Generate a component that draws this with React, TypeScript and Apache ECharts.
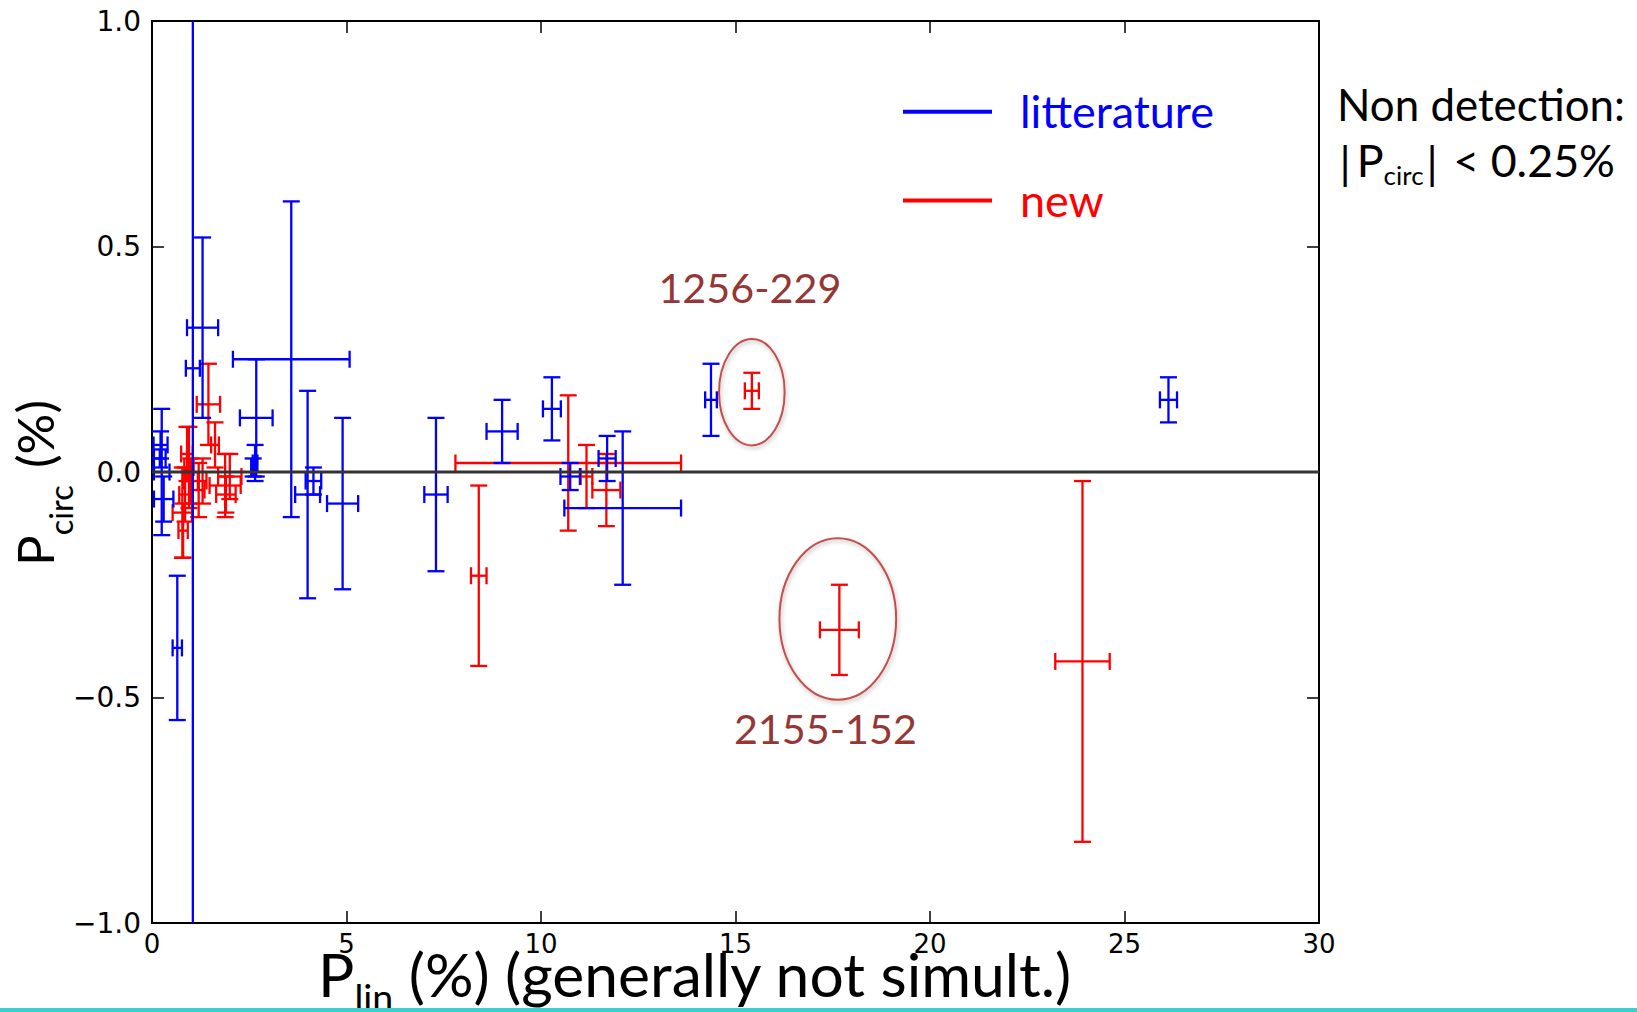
import React, { useEffect, useRef } from "react";
import * as echarts from "echarts";

// ---------- axes ----------
const X_MIN = 0;
const X_MAX = 30;
const X_STEP = 5;
const Y_MIN = -1;
const Y_MAX = 1;
const Y_STEP = 0.5;
const xTicks = [0, 5, 10, 15, 20, 25, 30];
const xTickLabels = ["0", "5", "10", "15", "20", "25", "30"];
const yTicks = [-1, -0.5, 0, 0.5, 1];
const yTickLabels = ["\u22121.0", "\u22120.5", "0.0", "0.5", "1.0"];

// ---------- "litterature" (blue) ----------
const litX = [1.05, 1.3, 0.25, 0.22, 0.2, 0.3, 0.65, 3.58, 2.68, 2.65, 2.6, 4.0, 4.15, 4.9, 7.3, 9.0, 10.28, 10.75, 11.7, 12.1, 14.37, 26.13];
const litY = [0.23, 0.32, 0.0, 0.06, 0.03, -0.06, -0.39, 0.25, 0.12, 0.02, 0.01, -0.05, -0.02, -0.07, -0.05, 0.09, 0.14, -0.01, 0.03, -0.08, 0.16, 0.16];
const litXErr = [0.18, 0.4, 0.2, 0.18, 0.15, 0.25, 0.12, 1.5, 0.42, 0.06, 0.05, 0.32, 0.2, 0.4, 0.3, 0.4, 0.23, 0.25, 0.22, 1.5, 0.15, 0.22];
const litYErr = [1.4, 0.2, 0.14, 0.03, 0.02, 0.05, 0.16, 0.35, 0.13, 0.04, 0.02, 0.23, 0.03, 0.19, 0.17, 0.07, 0.07, 0.03, 0.05, 0.17, 0.08, 0.05];

// ---------- "new" (red) ----------
const newX = [10.7, 8.4, 11.17, 11.68, 15.42, 17.67, 23.92, 1.45, 1.62, 0.78, 0.8, 0.85, 0.95, 1.0, 0.9, 1.2, 1.88, 2.0, 1.9, 1.3];
const newY = [0.02, -0.23, -0.01, -0.04, 0.18, -0.35, -0.42, 0.15, 0.06, -0.09, -0.13, -0.05, 0.01, -0.02, 0.04, -0.04, -0.03, -0.01, -0.05, -0.02];
const newXErr = [2.9, 0.2, 0.15, 0.36, 0.18, 0.5, 0.7, 0.3, 0.1, 0.25, 0.12, 0.15, 0.12, 0.18, 0.15, 0.15, 0.4, 0.3, 0.25, 0.1];
const newYErr = [0.15, 0.2, 0.07, 0.08, 0.04, 0.1, 0.4, 0.09, 0.05, 0.1, 0.06, 0.06, 0.09, 0.05, 0.06, 0.06, 0.07, 0.05, 0.04, 0.05];

// ---------- zero line ----------
const zeroLineX = [0, 30];
const zeroLineY = [0, 0];

// ---------- annotations (data coordinates) ----------
const annotNames = ["1256-229", "2155-152"];
const annotLabelX = [15.37, 17.31];
const annotLabelY = [0.411, -0.568];
const ellipseCX = [15.42, 17.63];
const ellipseCY = [0.177, -0.326];
const ellipseRX = [0.843, 1.5];
const ellipseRY = [0.118, 0.179];

const SANS = "Lato";
const TICK_FONT = "DejaVu Sans";
const BLUE = "#0000FF";
const RED = "#FF0000";
const ANNOT_COLOR = "#953735";
const ELLIPSE_COLOR = "#C0504D";
const CENTRAL = 0.387; // central baseline offset (fraction of font size) above alphabetic baseline

let measureCtx: CanvasRenderingContext2D | null = null;
function measure(text: string, size: number, family: string): number {
  if (!measureCtx) measureCtx = document.createElement("canvas").getContext("2d");
  measureCtx!.font = `${size}px ${family}`;
  return measureCtx!.measureText(text).width;
}

type Piece = { text: string; rel: number; dy: number; gap?: number };
function layoutRunF(pieces: Piece[], family: string, F: number) {
  let x = 0;
  const items = pieces.map((p) => {
    const size = F * p.rel;
    x += p.gap || 0;
    const lead = p.text.length - p.text.replace(/^\s+/, "").length;
    const leadW = lead ? measure(p.text.slice(0, lead), size, family) : 0;
    const it = { text: p.text.trim(), size, x: x + leadW, dy: p.dy };
    x += measure(p.text, size, family);
    return it;
  });
  return { F, items, width: x };
}
function layoutRun(pieces: Piece[], family: string, target: number) {
  const w100 = layoutRunF(pieces, family, 100).width;
  const gaps = pieces.reduce((s, p) => s + (p.gap || 0), 0);
  const F = (100 * (target - gaps)) / (w100 - gaps);
  return layoutRunF(pieces, family, F);
}

function textEl(text: string, x: number, y: number, size: number, fill: string, family = SANS, align = "left") {
  return {
    type: "text",
    x,
    y,
    silent: true,
    style: {
      text,
      fill,
      fontSize: size,
      fontFamily: family,
      align,
      verticalAlign: "middle",
      textAlign: align,
      textVerticalAlign: "middle",
    },
  };
}

function makeRenderItem(color: string) {
  return (params: any, api: any) => {
    const x = api.value(0);
    const y = api.value(1);
    const xe = api.value(2);
    const ye = api.value(3);
    const cap = 8.5;
    const style = { stroke: color, lineWidth: 2.3, fill: "none" };
    const xl = Math.max(X_MIN, x - xe);
    const xr = Math.min(X_MAX, x + xe);
    const yb = Math.max(Y_MIN, y - ye);
    const yt = Math.min(Y_MAX, y + ye);
    const pc = api.coord([x, y]);
    const pl = api.coord([xl, y]);
    const pr = api.coord([xr, y]);
    const pb = api.coord([x, yb]);
    const pt = api.coord([x, yt]);
    const children: any[] = [
      { type: "line", shape: { x1: pl[0], y1: pc[1], x2: pr[0], y2: pc[1] }, style },
      { type: "line", shape: { x1: pc[0], y1: pt[1], x2: pc[0], y2: pb[1] }, style },
    ];
    if (x - xe >= X_MIN) children.push({ type: "line", shape: { x1: pl[0], y1: pc[1] - cap, x2: pl[0], y2: pc[1] + cap }, style });
    if (x + xe <= X_MAX) children.push({ type: "line", shape: { x1: pr[0], y1: pc[1] - cap, x2: pr[0], y2: pc[1] + cap }, style });
    if (y - ye >= Y_MIN) children.push({ type: "line", shape: { x1: pc[0] - cap, y1: pb[1], x2: pc[0] + cap, y2: pb[1] }, style });
    if (y + ye <= Y_MAX) children.push({ type: "line", shape: { x1: pc[0] - cap, y1: pt[1], x2: pc[0] + cap, y2: pt[1] }, style });
    return { type: "group", children };
  };
}

function fmtTick(v: number, ticks: number[], labels: string[]) {
  const i = ticks.findIndex((t) => Math.abs(t - v) < 1e-9);
  return i >= 0 ? labels[i] : "";
}

export default function App() {
  const ref = useRef<HTMLDivElement>(null);
  useEffect(() => {
    const el = ref.current!;
    const chart = echarts.init(el, undefined, { renderer: "svg" });

    const axisLine = { show: true, onZero: false, lineStyle: { color: "#000", width: 2 } };
    const axisTick = { show: true, inside: true, length: 12, lineStyle: { color: "#000", width: 1.5 } };

    const litData = litX.map((x, i) => [x, litY[i], litXErr[i], litYErr[i]]);
    const newData = newX.map((x, i) => [x, newY[i], newXErr[i], newYErr[i]]);

    chart.setOption({
      animation: false,
      backgroundColor: "#ffffff",
      grid: { left: 152, top: 21, right: 318, bottom: 89, containLabel: false, show: false },
      xAxis: [
        {
          type: "value",
          min: X_MIN,
          max: X_MAX,
          interval: X_STEP,
          position: "bottom",
          axisLine,
          axisTick,
          splitLine: { show: false },
          axisLabel: {
            show: true,
            margin: 8,
            color: "#000",
            fontFamily: TICK_FONT,
            fontSize: 26,
            formatter: (v: number) => fmtTick(v, xTicks, xTickLabels),
          },
        },
        {
          type: "value",
          min: X_MIN,
          max: X_MAX,
          interval: X_STEP,
          position: "top",
          axisLine,
          axisTick,
          splitLine: { show: false },
          axisLabel: { show: false },
        },
      ],
      yAxis: [
        {
          type: "value",
          min: Y_MIN,
          max: Y_MAX,
          interval: Y_STEP,
          position: "left",
          axisLine,
          axisTick,
          splitLine: { show: false },
          axisLabel: {
            show: true,
            margin: 11,
            color: "#000",
            fontFamily: TICK_FONT,
            fontSize: 28,
            formatter: (v: number) => fmtTick(v, yTicks, yTickLabels),
          },
        },
        {
          type: "value",
          min: Y_MIN,
          max: Y_MAX,
          interval: Y_STEP,
          position: "right",
          axisLine,
          axisTick,
          splitLine: { show: false },
          axisLabel: { show: false },
        },
      ],
      series: [
        {
          type: "custom",
          name: "new",
          xAxisIndex: 0,
          yAxisIndex: 0,
          clip: true,
          silent: true,
          renderItem: makeRenderItem(RED),
          encode: { x: 0, y: 1 },
          data: newData,
          z: 2,
        },
        {
          type: "custom",
          name: "litterature",
          xAxisIndex: 0,
          yAxisIndex: 0,
          clip: true,
          silent: true,
          renderItem: makeRenderItem(BLUE),
          encode: { x: 0, y: 1 },
          data: litData,
          z: 3,
        },
        {
          type: "line",
          xAxisIndex: 0,
          yAxisIndex: 0,
          silent: true,
          symbol: "none",
          lineStyle: { color: "#333", width: 3 },
          data: zeroLineX.map((x, i) => [x, zeroLineY[i]]),
          z: 4,
        },
      ],
    });

    const toPx = (x: number, y: number) =>
      chart.convertToPixel({ xAxisIndex: 0, yAxisIndex: 0 }, [x, y]) as number[];

    const graphics: any[] = [];

    // ellipses + annotation labels
    ellipseCX.forEach((cx, i) => {
      const c = toPx(cx, ellipseCY[i]);
      const e = toPx(cx + ellipseRX[i], ellipseCY[i] + ellipseRY[i]);
      graphics.push({
        type: "ellipse",
        silent: true,
        z: 10,
        shape: { cx: c[0], cy: c[1], rx: Math.abs(e[0] - c[0]), ry: Math.abs(c[1] - e[1]) },
        style: {
          fill: "none",
          stroke: ELLIPSE_COLOR,
          lineWidth: 2,
          shadowBlur: 4,
          shadowColor: "rgba(0,0,0,0.3)",
          shadowOffsetX: 1,
          shadowOffsetY: 2,
        },
      });
    });
    annotNames.forEach((name, i) => {
      const p = toPx(annotLabelX[i], annotLabelY[i]);
      const size = (44 * 183) / measure(name, 44, SANS);
      graphics.push({ ...textEl(name, p[0], p[1], size, ANNOT_COLOR, SANS, "center"), z: 10 });
    });

    // legend
    const legItems = [
      { name: "litterature", color: BLUE, y: 111.7, base: 128.5 },
      { name: "new", color: RED, y: 200.5, base: 217 },
    ];
    const legSize = (44 * 194) / measure("litterature", 44, SANS);
    legItems.forEach((it) => {
      graphics.push({
        type: "line",
        silent: true,
        z: 10,
        shape: { x1: 903, y1: it.y, x2: 992, y2: it.y },
        style: { stroke: it.color, lineWidth: 4 },
      });
      graphics.push({ ...textEl(it.name, 1020, it.base - CENTRAL * legSize, legSize, it.color), z: 10 });
    });

    // right annotation
    const ndSize = (44 * 288) / measure("Non detection:", 44, SANS);
    graphics.push({ ...textEl("Non detection:", 1337, 121 - CENTRAL * ndSize, ndSize, "#000"), z: 10 });
    const run3 = layoutRun(
      [
        { text: "|", rel: 1, dy: 2 },
        { text: "P", rel: 1, dy: 0, gap: 6 },
        { text: "circ", rel: 0.58, dy: 8 },
        { text: "|", rel: 1, dy: 2, gap: 3 },
        { text: " < 0.25%", rel: 1, dy: 0, gap: 4 },
      ],
      SANS,
      275.6
    );
    run3.items.forEach((it) => {
      graphics.push({ ...textEl(it.text, 1339.5 + it.x, 177.5 + it.dy - CENTRAL * it.size, it.size, "#000"), z: 10 });
    });

    // x axis title
    const runX = layoutRun(
      [
        { text: "P", rel: 1, dy: 0 },
        { text: "lin", rel: 0.62, dy: 14 },
        { text: " (%) (generally not simult.)", rel: 1, dy: 0 },
      ],
      SANS,
      755
    );
    runX.items.forEach((it) => {
      graphics.push({ ...textEl(it.text, 318 + it.x, 997 + it.dy - CENTRAL * it.size, it.size, "#000"), z: 10 });
    });

    // y axis title (rotated), centred on the reference span
    const runY = layoutRunF(
      [
        { text: "P", rel: 1, dy: 0 },
        { text: "circ", rel: 0.64, dy: 19 },
        { text: " (%)", rel: 1, dy: 0, gap: 4 },
      ],
      SANS,
      51
    );
    const yTitleCenter = 483;
    graphics.push({
      type: "group",
      x: 54,
      y: yTitleCenter + runY.width / 2,
      rotation: Math.PI / 2,
      silent: true,
      z: 10,
      children: runY.items.map((it) => textEl(it.text, it.x, it.dy - CENTRAL * it.size, it.size, "#000")),
    });

    // bottom cyan rule
    graphics.push({
      type: "rect",
      silent: true,
      z: 100,
      shape: { x: 0, y: 1008, width: 1637, height: 4 },
      style: { fill: "#3CCFCF" },
    });

    chart.setOption({ graphic: graphics });

    return () => chart.dispose();
  }, []);

  return (
    <div
      ref={ref}
      style={{ position: "fixed", left: 0, top: 0, width: 1637, height: 1012, background: "#fff" }}
    />
  );
}
